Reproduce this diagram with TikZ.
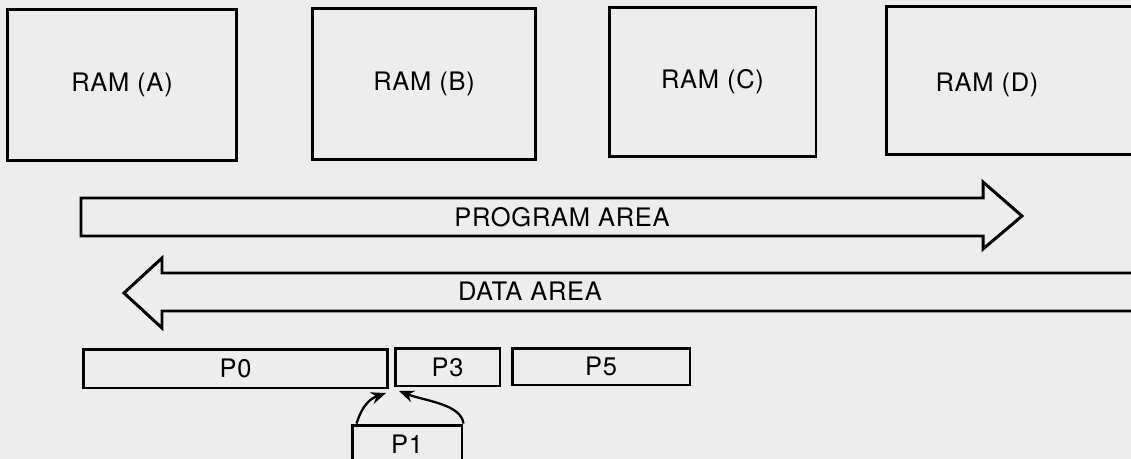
\documentclass[tikz,border=0pt]{standalone}
\usepackage{fontspec}
\setmainfont{TeX Gyre Heros}[LetterSpace=3]
\usetikzlibrary{arrows.meta}

\begin{document}
\begin{tikzpicture}[x=0.02cm, y=-0.02cm, line width=1.7pt,
    box/.style={draw, inner sep=0pt},
    lbl/.style={font=\fontsize{14.5}{17}\selectfont},
    feed/.style={line width=1.3pt, -{Stealth[length=3mm, width=2.4mm]}}]
  % frame of the page, light paper tone
  \useasboundingbox (0,0) rectangle (1131,459);
  \fill[black!7] (0,0) rectangle (1131,459);
  \clip (0,0) rectangle (1131,459);
  % RAM blocks
  \node (ramA) [box, lbl, minimum width=4.6cm, minimum height=3.04cm] at (122,85) {RAM (A)};
  \node (ramB) [box, lbl, minimum width=4.48cm, minimum height=3.04cm] at (424,84) {RAM (B)};
  \node (ramC) [box, lbl, minimum width=4.14cm, minimum height=3.0cm] at (712.5,82) {RAM (C)};
  % RAM (D) runs off the right edge
  \node (ramD) [box, minimum width=5.48cm, minimum height=2.98cm] at (1023,80.5) {};
  \node (ramDt) [lbl] at (987,85) {RAM (D)};
  % program area, pointing right
  \draw (81,198) -- (983,198) -- (983,182) -- (1022,216)
        -- (983,249) -- (983,236) -- (81,236) -- cycle;
  \node (prog) [lbl] at (562,217) {PROGRAM AREA};
  % data area, pointing left, tail off the right edge
  \draw (1160,273) -- (162,273) -- (162,258) -- (124,293)
        -- (162,328) -- (162,311) -- (1160,311);
  \node (data) [lbl] at (530,291) {DATA AREA};
  % pages
  \node (p0) [box, lbl, minimum width=6.1cm, minimum height=0.78cm] at (235.5,368.5) {P0};
  \node (p3) [box, lbl, minimum width=2.1cm, minimum height=0.76cm] at (447.5,367) {P3};
  \node (p5) [box, lbl, minimum width=3.56cm, minimum height=0.74cm] at (601,366.5) {P5};
  \node (p1) [box, lbl, minimum width=2.2cm, minimum height=0.76cm] at (407,444) {P1};
  % P1 fed in between P0 and P3
  \coordinate (inL) at (386,393);
  \coordinate (inR) at (399,391);
  \draw[feed] ([xshift=0.12cm]p1.north west) .. controls (363,403) and (372,398) .. (inL);
  \draw[feed] (p1.north east) .. controls (461,404) and (425,401) .. (inR);
\end{tikzpicture}
\end{document}
